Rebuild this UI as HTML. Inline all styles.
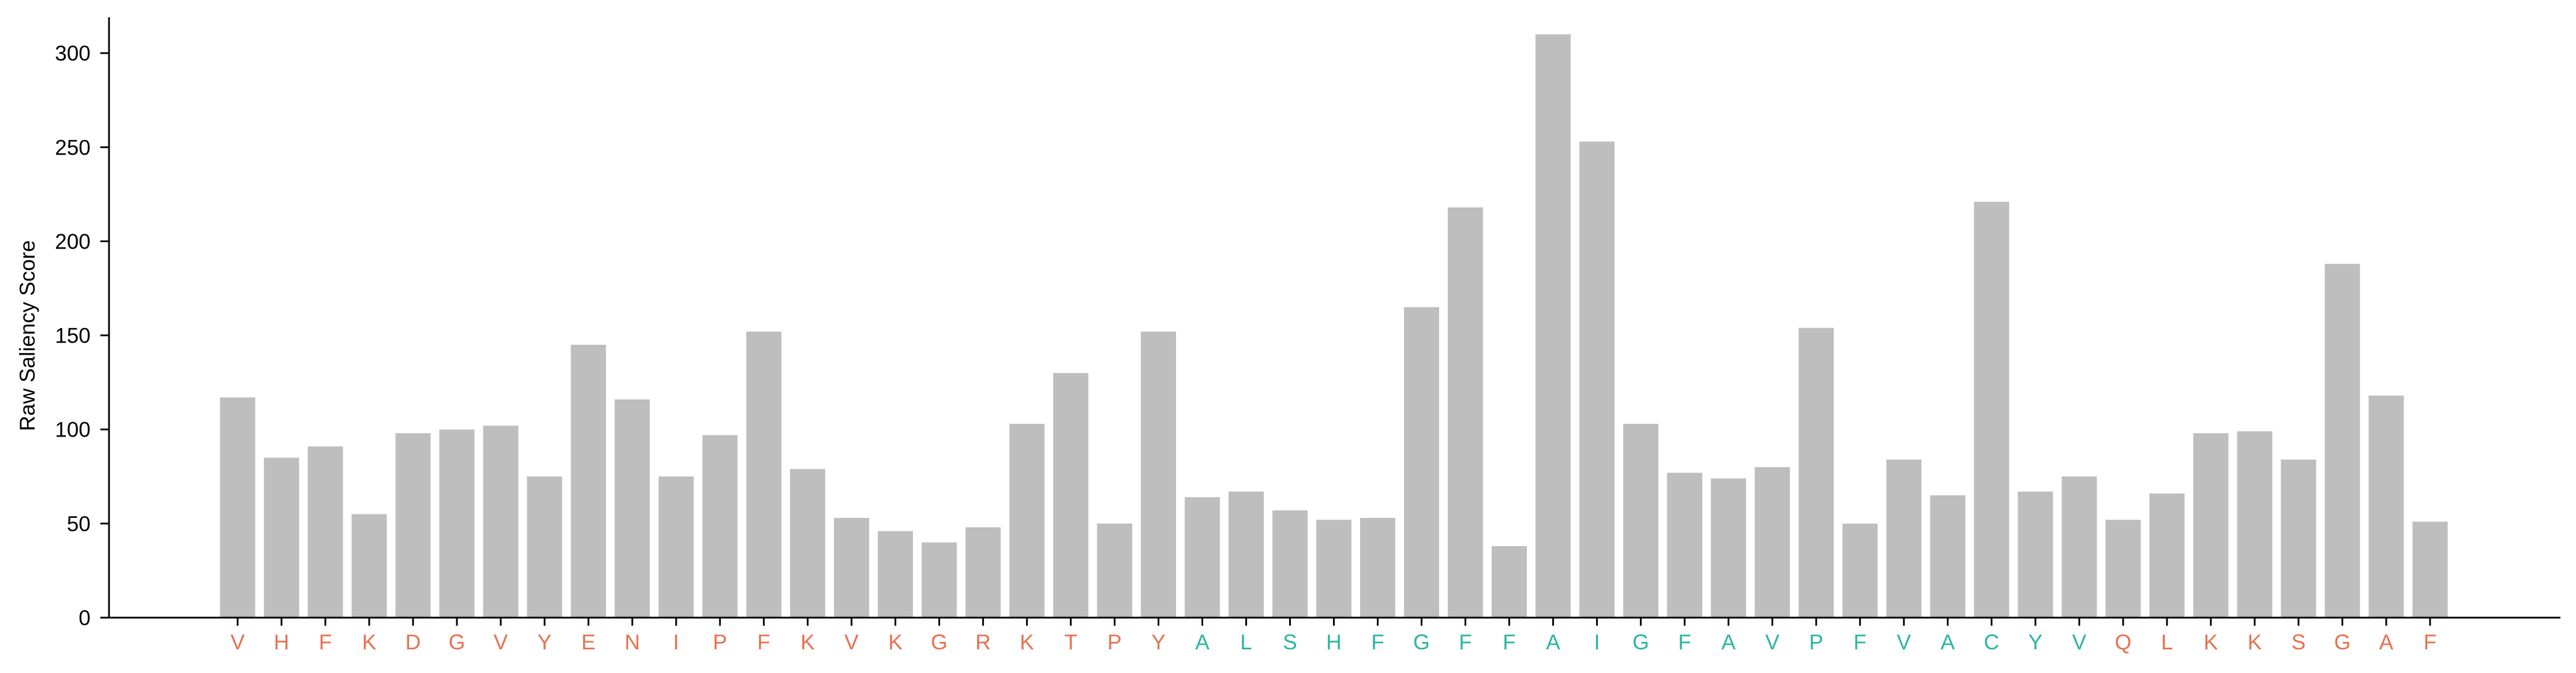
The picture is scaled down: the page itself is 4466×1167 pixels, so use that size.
<!DOCTYPE html>
<html><head><meta charset="utf-8"><style>
body{margin:0;background:#fff}
svg{display:block}
text{font-family:"Liberation Sans","DejaVu Sans",sans-serif}
</style></head><body>
<svg id="chart" width="4466" height="1167" viewBox="0 0 4466 1167" xmlns="http://www.w3.org/2000/svg">
<g id="bars"></g>
<g id="axes"></g>
<text x="0" y="0" transform="translate(60,582) rotate(-90)" text-anchor="middle" font-size="37" fill="#000">Raw Saliency Score</text>
</svg>
<script>
const residues = ["V","H","F","K","D","G","V","Y","E","N","I","P","F","K","V","K","G","R","K","T","P","Y","A","L","S","H","F","G","F","F","A","I","G","F","A","V","P","F","V","A","C","Y","V","Q","L","K","K","S","G","A","F"];
const scores = [117,85,91,55,98,100,102,75,145,116,75,97,152,79,53,46,40,48,103,130,50,152,64,67,57,52,53,165,218,38,310,253,103,77,74,80,154,50,84,65,221,67,75,52,66,98,99,84,188,118,51];
const regions = ["o","o","o","o","o","o","o","o","o","o","o","o","o","o","o","o","o","o","o","o","o","o","t","t","t","t","t","t","t","t","t","t","t","t","t","t","t","t","t","t","t","t","t","o","o","o","o","o","o","o","o"];
const yTicks = [0,50,100,150,200,250,300];

const NS="http://www.w3.org/2000/svg";
const x0=412, step=76.02, bw=61;
const yZero=1071, yPer=3.263;
const xPos=i=>x0+i*step;
const yPos=v=>yZero-v*yPer;
const bars=document.getElementById('bars'), axes=document.getElementById('axes');
function mk(tag,attrs,parent){const e=document.createElementNS(NS,tag);for(const k in attrs)e.setAttribute(k,attrs[k]);parent.appendChild(e);return e;}
scores.forEach((v,i)=>{
  const r=mk('rect',{x:xPos(i)-bw/2,y:yPos(v),width:bw,height:yZero-yPos(v),fill:'#bebebe'},bars);
  
  
  const t=mk('line',{x1:xPos(i),x2:xPos(i),y1:yZero,y2:yZero+14,stroke:'#000','stroke-width':3},axes);
  
  
  const l=mk('text',{x:xPos(i),y:1126,'text-anchor':'middle','font-size':37,fill:regions[i]==='o'?'#e8704f':'#2ab5a0'},axes);
  l.textContent=residues[i];
  
  
});
yTicks.forEach(v=>{
  const t=mk('line',{x1:174,x2:189,y1:yPos(v),y2:yPos(v),stroke:'#000','stroke-width':3},axes);
  
  
  const l=mk('text',{x:157,y:yPos(v)+13,'text-anchor':'end','font-size':37,fill:'#000'},axes);
  l.textContent=v;
  
  
});
const ys=mk('line',{x1:189,x2:189,y1:30,y2:1072.5,stroke:'#000','stroke-width':3},axes);


const xs=mk('line',{x1:187.5,x2:4439,y1:yZero,y2:yZero,stroke:'#000','stroke-width':3},axes);


</script>
</body></html>
